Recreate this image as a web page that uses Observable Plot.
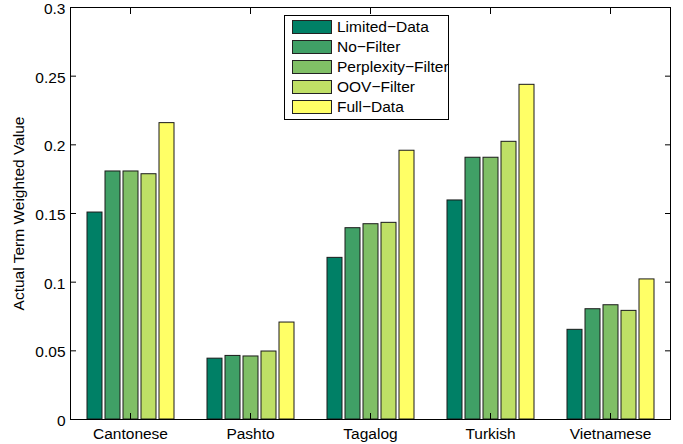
<!DOCTYPE html>
<html>
<head>
<meta charset="utf-8">
<script src="https://cdn.jsdelivr.net/npm/d3@7"></script>
<script src="https://cdn.jsdelivr.net/npm/@observablehq/plot@0.6"></script>
<style>
  html, body { margin: 0; padding: 0; background: #fff; }
  #wrap { position: relative; width: 683px; height: 444px; font-family: 'Liberation Sans', Arial, Helvetica, sans-serif; }
  #legend { position: absolute; left: 284px; top: 15px; width: 165px; height: 105px; box-sizing: border-box; border: 1px solid #000; background: #fff; }
  .row { position: absolute; left: 7px; height: 20px; display: flex; align-items: center; font-size: 15.5px; white-space: nowrap; color: #000; }
  .sw { width: 40px; height: 14px; box-sizing: border-box; border: 1px solid #222; margin-right: 5px; flex: none; }
</style>
</head>
<body>
<div id="wrap"></div>
<script>
const languages = ["Cantonese", "Pashto", "Tagalog", "Turkish", "Vietnamese"];
const series = ["Limited-Data", "No-Filter", "Perplexity-Filter", "OOV-Filter", "Full-Data"];
const seriesLabels = ["Limited\u2212Data", "No\u2212Filter", "Perplexity\u2212Filter", "OOV\u2212Filter", "Full\u2212Data"];
const colors = ["#008066", "#40a066", "#80bf66", "#bfdf66", "#ffff66"];

const limitedData      = [0.1507, 0.0443, 0.1177, 0.1595, 0.0653];
const noFilter         = [0.1806, 0.0463, 0.1393, 0.1906, 0.0803];
const perplexityFilter = [0.1806, 0.0459, 0.1422, 0.1906, 0.0832];
const oovFilter        = [0.1786, 0.0495, 0.1432, 0.2022, 0.0791];
const fullData         = [0.2158, 0.0706, 0.1957, 0.2437, 0.1020];

const yTicks = [0, 0.05, 0.1, 0.15, 0.2, 0.25, 0.3];
const yTickLabels = ["0", "0.05", "0.1", "0.15", "0.2", "0.25", "0.3"];

const seriesValues = [limitedData, noFilter, perplexityFilter, oovFilter, fullData];
const data = [];
languages.forEach((lang, i) => {
  series.forEach((s, j) => {
    data.push({lang, series: s, value: seriesValues[j][i]});
  });
});

const font = "'Liberation Sans', Arial, Helvetica, sans-serif";

const chart = Plot.plot({
  width: 683,
  height: 444,
  marginLeft: 70,
  marginRight: 13,
  marginTop: 7,
  marginBottom: 25,
  style: {fontFamily: font, fontSize: "15.5px", color: "#000", background: "#fff"},
  fx: {domain: languages, padding: 0, axis: null, label: null},
  x: {domain: series, paddingInner: 0.18, paddingOuter: 0.78, axis: null},
  y: {domain: [0, 0.3], axis: null},
  color: {domain: series, range: colors},
  marks: [
    Plot.barY(data, {fx: "lang", x: "series", y: "value", fill: "series", stroke: "#1a1a1a", strokeWidth: 1}),
    Plot.axisY({anchor: "left", ticks: yTicks, tickSize: 0, tickPadding: 5, dy: 1.5,
      tickFormat: d => yTickLabels[yTicks.indexOf(d)],
      label: null}),
    Plot.axisY({anchor: "left", ticks: [], tickSize: 0,
      label: "Actual Term Weighted Value", labelAnchor: "center", labelOffset: 58, labelArrow: "none"}),
    Plot.axisY({anchor: "left", ticks: yTicks, tickSize: 6, dx: 6, tickFormat: () => "", label: null}),
    Plot.axisY({anchor: "right", ticks: yTicks, tickSize: 6, dx: -6, tickFormat: () => "", label: null}),
    Plot.axisFx({anchor: "bottom", tickSize: 6, dy: -6, tickFormat: () => "", label: null}),
    Plot.axisFx({anchor: "top", tickSize: 6, dy: 6, tickFormat: () => "", label: null}),
    Plot.axisFx({anchor: "bottom", tickSize: 0, tickPadding: 8, label: null}),
    Plot.ruleY([0], {stroke: "#000", strokeWidth: 1}),
    Plot.ruleY([0.3], {stroke: "#000", strokeWidth: 1}),
    Plot.frame({anchor: "left", facetAnchor: "left", stroke: "#000"}),
    Plot.frame({anchor: "right", facetAnchor: "right", stroke: "#000"})
  ]
});

const wrap = document.getElementById("wrap");
wrap.appendChild(chart);

const legend = document.createElement("div");
legend.id = "legend";
series.forEach((s, i) => {
  const row = document.createElement("div");
  row.className = "row";
  row.style.top = (1.3 + 20 * i) + "px";
  const sw = document.createElement("div");
  sw.className = "sw";
  sw.style.background = colors[i];
  const t = document.createElement("span");
  t.textContent = seriesLabels[i];
  row.appendChild(sw);
  row.appendChild(t);
  legend.appendChild(row);
});
wrap.appendChild(legend);
</script>
</body>
</html>
